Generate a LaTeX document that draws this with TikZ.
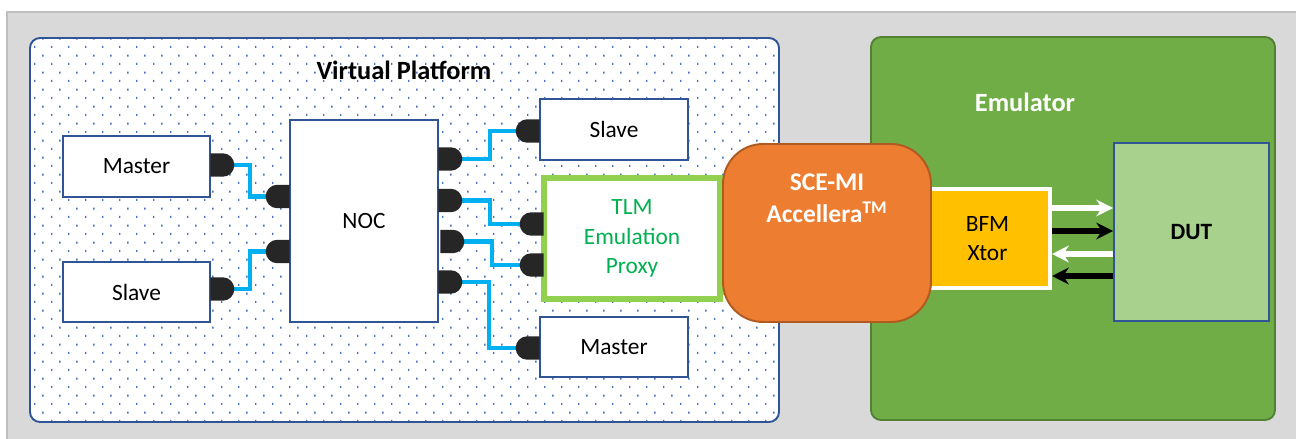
\documentclass[tikz,border=0pt]{standalone}
\usepackage{fontspec}
\setmainfont{Carlito}
\usetikzlibrary{positioning,arrows.meta,shapes.misc,patterns}

\definecolor{bggray}{HTML}{D9D9D9}
\definecolor{bgline}{HTML}{BFBFBF}
\definecolor{boxblue}{HTML}{2F5597}
\definecolor{dotblue}{HTML}{4472C4}
\definecolor{wireblue}{HTML}{00B0F0}
\definecolor{plugdark}{HTML}{262626}
\definecolor{tlmline}{HTML}{92D050}
\definecolor{tlmtext}{HTML}{00B050}
\definecolor{sceorange}{HTML}{ED7D31}
\definecolor{sceline}{HTML}{AE5A21}
\definecolor{emugreen}{HTML}{70AD47}
\definecolor{emuline}{HTML}{548235}
\definecolor{bfmyellow}{HTML}{FFC000}
\definecolor{dutgreen}{HTML}{A9D18E}

\pgfdeclarepatternformonly{vpdots}{\pgfqpoint{0pt}{0pt}}{\pgfqpoint{9.8pt}{9.8pt}}{\pgfqpoint{9.8pt}{9.8pt}}{%
  \pgfpathrectangle{\pgfqpoint{0pt}{0pt}}{\pgfqpoint{0.8pt}{1.3pt}}%
  \pgfpathrectangle{\pgfqpoint{4.9pt}{4.9pt}}{\pgfqpoint{0.8pt}{1.3pt}}%
  \pgfusepath{fill}}

\pgfdeclarelayer{frames}
\pgfdeclarelayer{wires}
\pgfsetlayers{frames,wires,main}

\newcommand{\vpbody}{\fontsize{13.3}{16.7}\selectfont}
\newcommand{\vptitle}{\fontsize{15}{18.4}\selectfont\bfseries}

\begin{document}
\begin{tikzpicture}[x=0.02cm,y=-0.02cm,
    box/.style={draw=boxblue,line width=1.1pt,fill=white,inner sep=0pt,font=\vpbody},
    plugR/.style={rounded rectangle,rounded rectangle left arc=none,fill=plugdark,
      minimum height=0.47cm,minimum width=0.48cm,inner sep=0pt,anchor=west},
    plugL/.style={rounded rectangle,rounded rectangle right arc=none,fill=plugdark,
      minimum height=0.47cm,minimum width=0.48cm,inner sep=0pt,anchor=east},
    wire/.style={draw=wireblue,line width=2.5pt},
    arrW/.style={draw=white,line width=3pt,-{Stealth[length=9.5pt,width=9.5pt]}},
    arrB/.style={draw=black,line width=3pt,-{Stealth[length=9.5pt,width=9.5pt]}},
    every node/.style={font=\vpbody}]
  \useasboundingbox (0,0) rectangle (1296,439);
  % background and the two frames
  \begin{pgfonlayer}{frames}
    \fill[bggray] (7,12) rectangle (1296,439);
    \draw[bgline,line width=0.8pt] (7,439) -- (7,12) -- (1296,12);
    \draw[boxblue,line width=1.1pt,rounded corners=0.2cm,preaction={fill=white},
      pattern=vpdots,pattern color=dotblue] (30,38) rectangle (779,422);
    \draw[emuline,line width=1.1pt,fill=emugreen,rounded corners=0.2cm] (871,37) rectangle (1275,420);
  \end{pgfonlayer}
  \node[font=\vptitle] (vpTitle) at (404,70) {Virtual Platform};
  \node[font=\vptitle,text=white] (emuTitle) at (1025,102) {Emulator};

  % virtual platform blocks
  \node[box,minimum width=2.94cm,minimum height=1.22cm] (mA) at (136.5,166.5) {Master};
  \node[box,minimum width=2.94cm,minimum height=1.2cm] (sA) at (136.5,292) {Slave};
  \node[box,minimum width=2.96cm,minimum height=4.04cm] (noc) at (364,221) {NOC};
  \node[box,minimum width=2.96cm,minimum height=1.22cm] (sB) at (614,129.5) {Slave};
  \node[box,minimum width=2.96cm,minimum height=1.2cm] (mB) at (614,347) {Master};
  \node[draw=tlmline,line width=3.4pt,fill=white,text=tlmtext,align=center,inner sep=0pt,
    minimum width=3.53cm,minimum height=2.43cm] (tlm) at (632,238.7) {TLM\\Emulation\\Proxy};

  % plugs
  \node[plugR] (pMa) at (210,165) {};
  \node[plugR] (pSa) at (210,289) {};
  \node[plugL] (nL1) at (290,196.5) {};
  \node[plugL] (nL2) at (290,251.5) {};
  \node[plugR] (nR1) at (438,159) {};
  \node[plugR] (nR2) at (438,200.5) {};
  \node[plugR] (nR3) at (440,241.5) {};
  \node[plugR] (nR4) at (438,282) {};
  \node[plugL] (pSb) at (540,131) {};
  \node[plugL] (pT1) at (544,224) {};
  \node[plugL] (pT2) at (544,265) {};
  \node[plugL] (pMb) at (540,348) {};

  % wires, under the plugs
  \begin{pgfonlayer}{wires}
    \draw[wire] (pMa.center) -| (250,180) |- (nL1.center);
    \draw[wire] (pSa.center) -| (250,270) |- (nL2.center);
    \draw[wire] (nR1.center) -| (490,145) |- (pSb.center);
    \draw[wire] (nR2.center) -| (490,212) |- (pT1.center);
    \draw[wire] (nR3.center) -| (492,253) |- (pT2.center);
    \draw[wire] (nR4.center) -| (489,315) |- (pMb.center);
  \end{pgfonlayer}

  % emulator side
  \node[draw=white,line width=2.3pt,fill=bfmyellow,align=center,inner sep=0pt,
    minimum width=2.5cm,minimum height=1.98cm] (bfm) at (987.5,238.5) {BFM\\Xtor};
  \node[draw=boxblue,line width=1.1pt,fill=dutgreen,inner sep=0pt,font=\vpbody\bfseries,
    minimum width=3.1cm,minimum height=3.56cm] (dut) at (1191.5,232) {DUT};
  \draw[arrW] (bfm.east |- 0,208) -- (dut.west |- 0,208);
  \draw[arrB] (bfm.east |- 0,231) -- (dut.west |- 0,231);
  \draw[arrW] (dut.west |- 0,254) -- (bfm.east |- 0,254);
  \draw[arrB] (dut.west |- 0,276) -- (bfm.east |- 0,276);

  % SCE-MI bridge
  \node[draw=sceline,line width=1.1pt,fill=sceorange,rounded corners=0.8cm,inner sep=0pt,
    minimum width=4.16cm,minimum height=3.56cm] (sce) at (827,233) {};
  \node[font=\fontsize{14.5}{18.4}\selectfont\bfseries,text=white,align=center] (sceTxt)
    at (827,198) {SCE-MI\\Accellera\textsuperscript{TM}};
\end{tikzpicture}
\end{document}
